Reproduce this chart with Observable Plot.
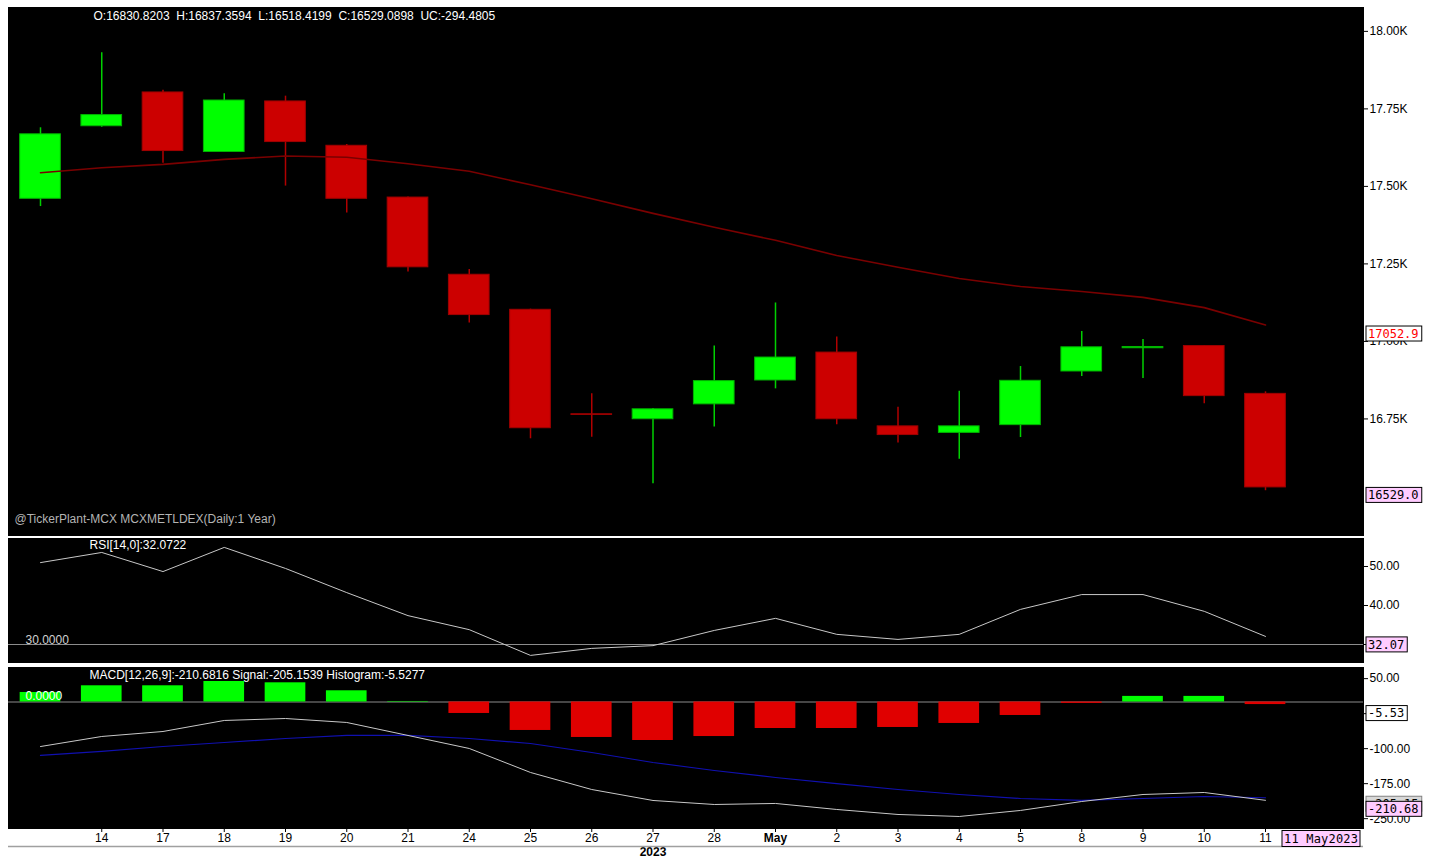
<!DOCTYPE html>
<html>
<head>
<meta charset="utf-8">
<script src="https://cdn.jsdelivr.net/npm/d3@7"></script>
<script src="https://cdn.jsdelivr.net/npm/@observablehq/plot@0.6"></script>
<style>
  html, body { margin: 0; padding: 0; background: #ffffff; }
  #wrap { position: relative; width: 1430px; height: 858px; background: #ffffff; overflow: hidden; }
  #wrap > div { position: absolute; left: 0; }
</style>
</head>
<body>
<div id="wrap">
  <div id="p1" style="top:0px"></div>
  <div id="p2" style="top:536px"></div>
  <div id="p3" style="top:663px"></div>
</div>
<script>
// ---------------- data ----------------
const dateLabels = ["13","14","17","18","19","20","21","24","25","26","27","28","May","2","3","4","5","8","9","10","11"];
const openVals  = [17460,17694,17803,17611,17774,17631,17464,17215,17102,16765,16749,16797,16874,16964,16726,16705,16730,16903,16978,16985,16830.8203];
const highVals  = [17689,17931,17810,17799,17791,17635,17466,17232,17104,16831,16784,16985,17124,17014,16788,16839,16919,17032,17006,16987,16837.3594];
const lowVals   = [17435,17691,17575,17609,17501,17414,17224,17059,16686,16691,16541,16724,16847,16731,16672,16620,16690,16887,16880,16799,16518.4199];
const closeVals = [17668,17730,17614,17777,17643,17460,17239,17085,16720,16763,16781,16872,16948,16749,16698,16726,16873,16981,16982,16823.5703,16529.0898];
const maVals    = [17544,17560,17571,17587,17598,17594,17573,17549,17505,17460,17413,17368,17326,17277,17239,17203,17177,17161,17142,17109,17052.9];
const rsiVals   = [51.0,53.6,48.7,54.9,49.5,43.3,37.4,33.8,27.2,29.0,29.7,33.6,36.7,32.6,31.3,32.6,39.0,42.8,42.8,38.5,32.0722];
const macdVals  = [-95.4,-73.9,-63.2,-39.6,-35.4,-43.9,-71.7,-99.6,-151,-187.5,-211,-219.6,-217.4,-230.3,-241,-245.3,-232.4,-213.2,-198.2,-193.9,-210.6816];
const signalVals= [-114.4,-105.8,-95.4,-86.8,-78.2,-71.7,-71.7,-78.2,-88.9,-108.2,-129.6,-146.8,-161.8,-174.7,-187.5,-198.2,-206.8,-211,-206.8,-202.5,-205.1539];
const histVals  = [20.4,34.7,34.7,43.9,41.1,24,1.1,-24.6,-61,-76,-82.5,-74,-56.8,-56.8,-54.6,-46,-28.9,-3,12,12,-5.5277];
const priceTicks = [16750,17000,17250,17500,17750,18000];
const rsiTicks = [30,40,50];
const macdTicks = [50,-25,-100,-175,-250];
const headerText = "O:16830.8203  H:16837.3594  L:16518.4199  C:16529.0898  UC:-294.4805";
const sourceText = "@TickerPlant-MCX MCXMETLDEX(Daily:1 Year)";
const rsiText = "RSI[14,0]:32.0722";
const macdText = "MACD[12,26,9]:-210.6816 Signal:-205.1539 Histogram:-5.5277";
const yearText = "2023";
const lastDateText = "11 May2023";

// ---------------- derived tables ----------------
const idx = dateLabels.map((_, i) => i);
const candles = idx.map(i => ({i, o: openVals[i], h: highVals[i], l: lowVals[i], c: closeVals[i]}));
const maData = idx.map(i => ({i, v: maVals[i]}));
const rsiData = idx.map(i => ({i, v: rsiVals[i]}));
const macdData = idx.map(i => ({i, v: macdVals[i]}));
const sigData = idx.map(i => ({i, v: signalVals[i]}));
const histData = idx.map(i => ({i, v: histVals[i]}));

const GREEN = "#00ff00", GREEN_D = "#00b400", RED = "#cc0000", RED_D = "#a00000";
const HW = 0.332;
const FONT = "'Liberation Sans', Arial, sans-serif";
const MONO = "'DejaVu Sans Mono', 'Liberation Mono', monospace";
const W = 1430, ML = 8, MR = 67;
const FS = 12;
const xOpt = {domain: [0, 20], range: [40, 1265]};
const styleObj = {fontFamily: FONT, fontSize: FS + "px", background: "white", color: "black", overflow: "visible"};
const trunc1 = v => (Math.trunc(v * 10) / 10).toFixed(1);

// ---------------- panel 1: price ----------------
const p1 = Plot.plot({
  width: W, height: 536, marginTop: 7, marginBottom: 1, marginLeft: ML, marginRight: MR,
  style: styleObj,
  x: {...xOpt, axis: null},
  y: {domain: [16374, 18077], axis: "right", ticks: priceTicks, tickFormat: d => (d / 1000).toFixed(2) + "K", tickSize: 4, tickPadding: 2, label: null},
  marks: [
    Plot.frame({fill: "black", stroke: "black"}),
    Plot.ruleX(candles, {x: "i", y1: "l", y2: "h", stroke: d => d.c >= d.o ? "#00d000" : "#b00000", strokeWidth: 1.5}),
    Plot.rect(candles, {x1: d => d.i - HW, x2: d => d.i + HW, y1: d => Math.min(d.o, d.c), y2: d => Math.max(d.o, d.c),
      fill: d => d.c >= d.o ? GREEN : RED, stroke: d => d.c >= d.o ? GREEN_D : RED_D, strokeWidth: 1}),
    Plot.line(maData, {x: "i", y: "v", stroke: "#7a0000", strokeWidth: 1.6}),
    Plot.text([headerText], {frameAnchor: "top-left", dx: 85, dy: 4, lineAnchor: "top", textAnchor: "start", fill: "white", fontSize: FS}),
    Plot.text([sourceText], {frameAnchor: "bottom-left", dx: 6, dy: -16, lineAnchor: "middle", textAnchor: "start", fill: "#b4b4b4", fontSize: FS})
  ]
});
document.getElementById("p1").appendChild(p1);

// ---------------- panel 2: RSI ----------------
const p2 = Plot.plot({
  width: W, height: 127, marginTop: 2, marginBottom: 1, marginLeft: ML, marginRight: MR,
  style: styleObj,
  x: {...xOpt, axis: null},
  y: {domain: [25.38, 57.18], axis: "right", ticks: rsiTicks, tickFormat: d => d.toFixed(2), tickSize: 4, tickPadding: 2, label: null},
  marks: [
    Plot.frame({fill: "black", stroke: "black"}),
    Plot.ruleY([30], {stroke: "#8c8c8c", strokeWidth: 1.2}),
    Plot.line(rsiData, {x: "i", y: "v", stroke: "#c8c8c8", strokeWidth: 1}),
    Plot.text([rsiText], {frameAnchor: "top-left", dx: 81, dy: 2, lineAnchor: "top", textAnchor: "start", fill: "white", fontSize: FS}),
    Plot.text(["30.0000"], {x: () => 0, y: () => 30, dx: -15, dy: -4.5, textAnchor: "start", fill: "#d0d0d0", fontSize: FS})
  ]
});
document.getElementById("p2").appendChild(p2);

// ---------------- panel 3: MACD ----------------
const p3 = Plot.plot({
  width: W, height: 195, marginTop: 4, marginBottom: 30, marginLeft: ML, marginRight: MR,
  style: styleObj,
  x: {...xOpt, axis: "bottom", ticks: idx.slice(1), tickFormat: i => dateLabels[i], tickSize: 4, tickPadding: 1, label: null},
  y: {domain: [-271.05, 73.9], axis: "right", ticks: macdTicks, tickFormat: d => d.toFixed(2), tickSize: 4, tickPadding: 2, label: null},
  marks: [
    Plot.frame({fill: "black", stroke: "black"}),
    Plot.ruleY([0], {stroke: "#8c8c8c", strokeWidth: 1.2}),
    Plot.rect(histData, {x1: d => d.i - HW, x2: d => d.i + HW, y1: 0, y2: "v", fill: d => d.v >= 0 ? GREEN : "#e00000"}),
    Plot.line(sigData, {x: "i", y: "v", stroke: "#1010b0", strokeWidth: 1.2}),
    Plot.line(macdData, {x: "i", y: "v", stroke: "#c8c8c8", strokeWidth: 1}),
    Plot.text(["0.0000"], {x: () => 0, y: () => 0, dx: -15, dy: -6, textAnchor: "start", fill: "white", fontSize: FS}),
    Plot.text([macdText], {frameAnchor: "top-left", dx: 81, dy: 2.5, lineAnchor: "top", textAnchor: "start", fill: "white", fontSize: FS}),
    Plot.text([yearText], {x: () => 10, frameAnchor: "bottom", dy: 23.5, lineAnchor: "middle", fill: "black", fontWeight: "bold", fontSize: FS})
  ]
});
document.getElementById("p3").appendChild(p3);

// bold month label
d3.select(p3).selectAll("text").filter(function() { return this.textContent === "May"; }).attr("font-weight", "bold");

// ---------------- value boxes on the right axis ----------------
function valueBox(chart, value, label, opts) {
  const y = chart.scale("y").apply(value) + (opts.off || 0);
  const w = label.length * 7.25 + 5;
  const g = d3.select(chart).append("g").attr("text-anchor", "start");
  g.append("rect").attr("x", W - MR + 3).attr("y", y).attr("width", w).attr("height", 15)
    .attr("fill", opts.fill).attr("stroke", opts.stroke || "black").attr("stroke-width", 1);
  g.append("text").attr("x", W - MR + 5).attr("y", y + 7.5).attr("dy", "0.35em").attr("text-anchor", "start")
    .attr("font-family", MONO).attr("font-size", 12).attr("fill", opts.color || "black").text(label);
}
valueBox(p1, maVals[20], trunc1(maVals[20]), {fill: "white", color: "#ff0000", off: 1.5});
valueBox(p1, closeVals[20], trunc1(closeVals[20]), {fill: "#ffccff", off: 0.5});
valueBox(p2, rsiVals[20], rsiVals[20].toFixed(2), {fill: "#ffccff", off: 1});
valueBox(p3, histVals[20], histVals[20].toFixed(2), {fill: "white", off: 1.5});
valueBox(p3, signalVals[20], signalVals[20].toFixed(2), {fill: "#d8d8d8", stroke: "#808080", off: -1});
valueBox(p3, macdVals[20], macdVals[20].toFixed(2), {fill: "#ffccff", off: 1.5});

// ---------------- bottom date line and last-date box ----------------
{
  const xs = p3.scale("x").apply(20);
  const g = d3.select(p3).append("g").attr("text-anchor", "start");
  g.append("line").attr("x1", ML).attr("x2", W - MR).attr("y1", 183.5).attr("y2", 183.5).attr("stroke", "#a0a0a0").attr("stroke-width", 1.5);
  g.append("rect").attr("x", xs + 17).attr("y", 167.5).attr("width", 78).attr("height", 16)
    .attr("fill", "#ffccff").attr("stroke", "black");
  g.append("text").attr("x", xs + 19).attr("y", 175.5).attr("dy", "0.35em").attr("text-anchor", "start")
    .attr("font-family", MONO).attr("font-size", 12).attr("fill", "black").attr("textLength", 74).text(lastDateText);
}
</script>
</body>
</html>
